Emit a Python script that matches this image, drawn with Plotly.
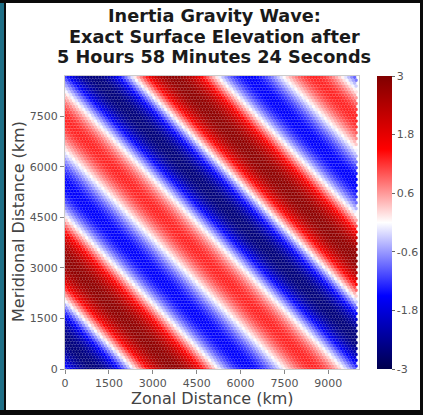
import numpy as np
import plotly.graph_objects as go

# ---- values ----
AMPLITUDE = 2.05             # amplitude of the main wave mode
SUB_MODE_RATIO = 0.46        # relative amplitude of the half-wavenumber mode
SUB_MODE_PHASE = -0.62       # phase of the half-wavenumber mode (rad)
WAVELENGTH_X_KM = 5000       # zonal wavelength of the main mode
WAVELENGTH_Y_KM = 4330       # meridional wavelength of the main mode
CREST_X_KM = 3660            # zonal position of the main crest on y = 0
CELL_DX_KM = 100             # hexagonal cell spacing
N_COLS = 100
N_ROWS = 101

CBAR_TICKS = [3, 1.8, 0.6, -0.6, -1.8, -3]
CBAR_TEXT = ["3", "1.8", "0.6", "-0.6", "-1.8", "-3"]
X_TICKS = [0, 1500, 3000, 4500, 6000, 7500, 9000]
Y_TICKS = [0, 1500, 3000, 4500, 6000, 7500]
TITLE_LINES = ["Inertia Gravity Wave:", "Exact Surface Elevation after",
               "5 Hours 58 Minutes 24 Seconds"]

# ---- hexagonal mesh cell centres ----
dy = CELL_DX_KM * np.sqrt(3) / 2
xs, ys = [], []
for j in range(N_ROWS):
    for i in range(N_COLS):
        xs.append(i * CELL_DX_KM + (j % 2) * CELL_DX_KM / 2)
        ys.append(j * dy)
xs = np.array(xs)
ys = np.array(ys)
theta = (2 * np.pi * (xs - CREST_X_KM) / WAVELENGTH_X_KM
         + 2 * np.pi * ys / WAVELENGTH_Y_KM)
eta = AMPLITUDE * (np.cos(theta) + SUB_MODE_RATIO * np.cos(theta / 2 + SUB_MODE_PHASE))

seismic = [[0.0, "rgb(0,0,77)"], [0.25, "rgb(0,0,255)"], [0.5, "rgb(255,255,255)"],
           [0.75, "rgb(255,0,0)"], [1.0, "rgb(128,0,0)"]]

FONT = "DejaVu Sans"
W, H = 423, 415
L, R, T, B = 65, 359, 76, 369   # plot area in pixels

def px(xp):
    return (xp - L) / (R - L)

def py(yp):
    return (B - yp) / (B - T)

fig = go.Figure()
fig.add_trace(go.Scatter(
    x=xs, y=ys, mode="markers", hoverinfo="skip",
    marker=dict(symbol="hexagon", size=3.9, color=eta, colorscale=seismic,
                cmin=-3, cmax=3,
                line=dict(width=0.3, color="rgba(255,255,255,0.3)"),
                showscale=True,
                colorbar=dict(x=px(377), xanchor="left", y=0.5, yanchor="middle",
                              len=1, lenmode="fraction", thickness=15,
                              xpad=0, ypad=0, outlinewidth=0,
                              tickvals=CBAR_TICKS, ticktext=CBAR_TEXT,
                              ticks="outside", ticklen=3, tickcolor="#666",
                              tickfont=dict(family=FONT, size=11, color="#555"))),
))

fig.update_xaxes(range=[0, 10050], tickvals=X_TICKS, showgrid=False, zeroline=False,
                 showline=True, linecolor="#ccc", linewidth=1, mirror=True,
                 ticks="outside", ticklen=4, tickcolor="#888",
                 tickfont=dict(family=FONT, size=11, color="#555"))
fig.update_yaxes(range=[0, 8700], tickvals=Y_TICKS, showgrid=False, zeroline=False,
                 showline=True, linecolor="#ccc", linewidth=1, mirror=True,
                 ticks="outside", ticklen=4, tickcolor="#888",
                 tickfont=dict(family=FONT, size=11, color="#555"))

ann = []
for line, ycen in zip(TITLE_LINES, [16.5, 36.5, 56.5]):
    ann.append(dict(text="<b>%s</b>" % line, xref="paper", yref="paper",
                    x=px(214), y=py(ycen), xanchor="center", yanchor="middle",
                    showarrow=False, font=dict(family=FONT, size=17.7, color="#1a1a1a")))
ann.append(dict(text="Zonal Distance (km)", xref="paper", yref="paper",
                x=px(212), y=py(398), xanchor="center", yanchor="middle",
                showarrow=False, font=dict(family=FONT, size=16, color="#444")))
ann.append(dict(text="Meridional Distance (km)", xref="paper", yref="paper",
                x=px(18), y=py(222), xanchor="center", yanchor="middle", textangle=-90,
                showarrow=False, font=dict(family=FONT, size=16, color="#444")))

shapes = [
    dict(type="rect", xref="paper", yref="paper", x0=px(0), x1=px(W), y0=py(0), y1=py(3),
         fillcolor="#0a0a0a", line_width=0, layer="above"),
    dict(type="rect", xref="paper", yref="paper", x0=px(0), x1=px(W), y0=py(410), y1=py(H),
         fillcolor="#0a0a0a", line_width=0, layer="above"),
    dict(type="rect", xref="paper", yref="paper", x0=px(420), x1=px(W), y0=py(0), y1=py(H),
         fillcolor="#0a0a0a", line_width=0, layer="above"),
    dict(type="rect", xref="paper", yref="paper", x0=px(0), x1=px(4), y0=py(3), y1=py(410),
         fillcolor="#1f6f86", line_width=0, layer="above"),
    dict(type="rect", xref="paper", yref="paper", x0=px(4), x1=px(6), y0=py(3), y1=py(410),
         fillcolor="#0a0a0a", line_width=0, layer="above"),
]

fig.update_layout(width=W, height=H,
                  margin=dict(l=L, r=W - R, t=T, b=H - B, autoexpand=False),
                  paper_bgcolor="white", plot_bgcolor="white", showlegend=False,
                  annotations=ann, shapes=shapes, font=dict(family=FONT))
fig.write_html("out.html", config={"displayModeBar": False, "staticPlot": True},
               post_script="document.body.style.margin='0px';"
                           "document.body.style.overflow='hidden';")
